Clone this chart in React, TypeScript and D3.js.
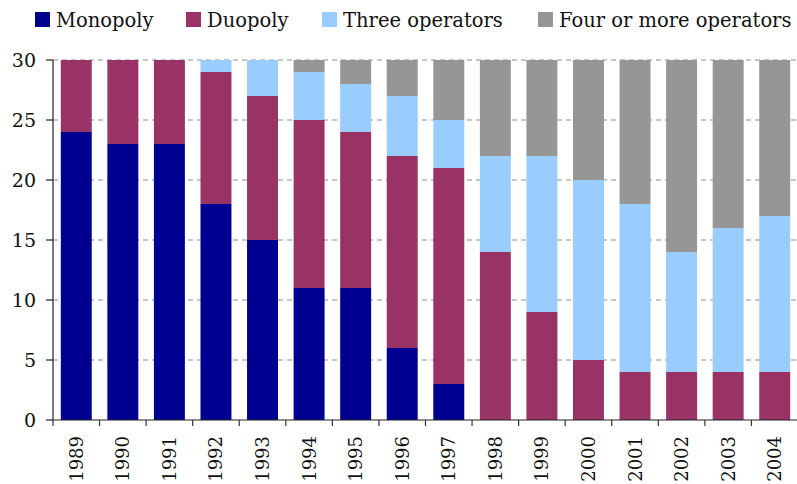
import React from "react";
import * as d3 from "d3";

const years = ["1989","1990","1991","1992","1993","1994","1995","1996","1997","1998","1999","2000","2001","2002","2003","2004"];
const monopoly = [24,23,23,18,15,11,11,6,3,0,0,0,0,0,0,0];
const duopoly = [6,7,7,11,12,14,13,16,18,14,9,5,4,4,4,4];
const threeOps = [0,0,0,1,3,4,4,5,4,8,13,15,14,10,12,13];
const fourPlus = [0,0,0,0,0,1,2,3,5,8,8,10,12,16,14,13];
const seriesNames = ["Monopoly","Duopoly","Three operators","Four or more operators"];
const colors = ["#000090","#993366","#99CCFF","#969696"];
const yTicks = [0,5,10,15,20,25,30];

const W = 797, H = 484;
const left = 53, right = 798, top = 60, bottom = 420;
const FONT = "'DejaVu Serif', serif";

export default function App() {
  const x = d3.scaleBand<string>().domain(years).range([left, right]).padding(0);
  const y = d3.scaleLinear().domain([0, 30]).range([bottom, top]);
  const table = years.map((yr, i) => ({ year: yr, s0: monopoly[i], s1: duopoly[i], s2: threeOps[i], s3: fourPlus[i] }));
  const stack = d3.stack<any>().keys(["s0","s1","s2","s3"])(table);
  const bw = x.bandwidth();
  const barW = bw * 0.665;
  const barOff = (bw - barW) / 2;
  const legendX = [35, 186, 322, 538];

  return (
    <svg width={W} height={H} style={{ position: "absolute", left: 0, top: 0, fontFamily: FONT }}>
      <rect x={0} y={0} width={W} height={H} fill="#fff" />
      {yTicks.filter(t => t > 0).map(t => (
        <line key={t} x1={left} x2={right} y1={y(t)} y2={y(t)} stroke="#b4b4b4" strokeWidth={1.5} strokeDasharray="5,4" />
      ))}
      {stack.map((layer, si) => (
        <g key={si} fill={colors[si]}>
          {layer.map((d, i) => d[1] - d[0] > 0 ? (
            <rect key={i} x={x(years[i])! + barOff} width={barW} y={y(d[1])} height={y(d[0]) - y(d[1])} />
          ) : null)}
        </g>
      ))}
      <line x1={left} x2={left} y1={top} y2={bottom} stroke="#222" strokeWidth={1.2} />
      {yTicks.map(t => (
        <g key={t}>
          <line x1={left - 7} x2={left} y1={y(t)} y2={y(t)} stroke="#222" strokeWidth={1.2} />
          <text x={36} y={y(t)} textAnchor="end" dominantBaseline="central" fontSize={19} fill="#111">{t}</text>
        </g>
      ))}
      <line x1={left} x2={right} y1={bottom} y2={bottom} stroke="#222" strokeWidth={1.2} />
      {years.map((yr) => (
        <g key={yr}>
          <line x1={x(yr)!} x2={x(yr)!} y1={bottom} y2={bottom + 6} stroke="#333" strokeWidth={1.2} />
          <text transform={`translate(${x(yr)! + bw / 2},${bottom + 16}) rotate(-90)`} textAnchor="end" dominantBaseline="central" fontSize={18} fill="#111">{yr}</text>
        </g>
      ))}
      {seriesNames.map((n, i) => (
        <g key={n}>
          <rect x={legendX[i]} y={12} width={15} height={15} fill={colors[i]} />
          <text x={legendX[i] + 21} y={20} dominantBaseline="central" fontSize={19.5} fill="#111">{n}</text>
        </g>
      ))}
    </svg>
  );
}
